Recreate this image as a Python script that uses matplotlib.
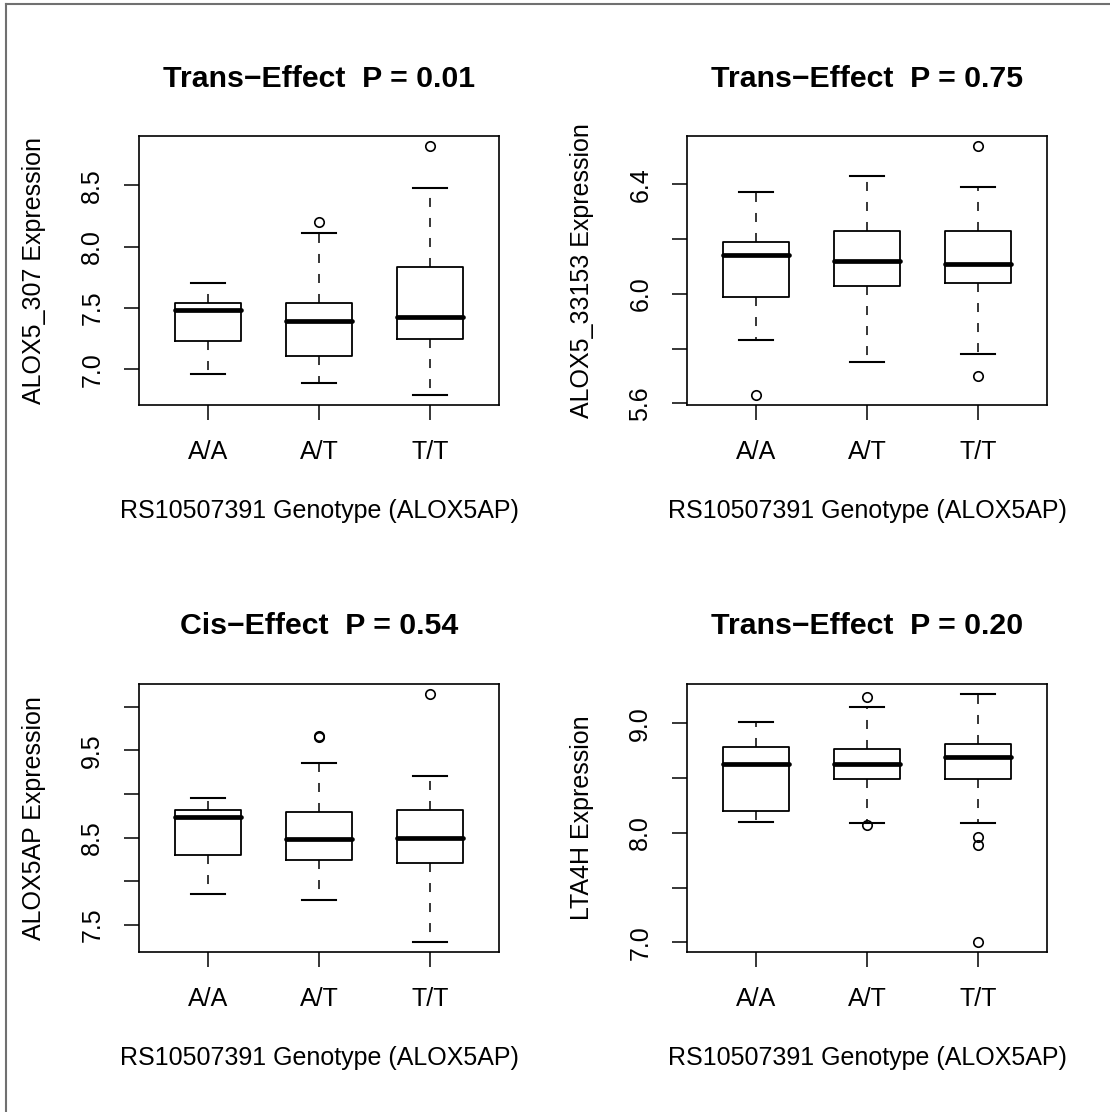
import matplotlib
matplotlib.use('Agg')
import matplotlib.pyplot as plt
from matplotlib.lines import Line2D

plt.rcParams['font.family'] = ['Liberation Sans', 'DejaVu Sans']
plt.rcParams['axes.ymargin'] = 0.04

genotypes = ['A/A', 'A/T', 'T/T']
xlab = 'RS10507391 Genotype (ALOX5AP)'

# panel 1 - ALOX5_307
p1_title = 'Trans\u2212Effect  P = 0.01'
p1_ylab = 'ALOX5_307 Expression'
p1_whislo = [6.96, 6.89, 6.79]
p1_q1 = [7.23, 7.11, 7.25]
p1_med = [7.48, 7.39, 7.43]
p1_q3 = [7.54, 7.54, 7.83]
p1_whishi = [7.70, 8.11, 8.48]
p1_fliers = [[], [8.20], [8.82]]
p1_ticks = [7.0, 7.5, 8.0, 8.5]
p1_ticklabels = ['7.0', '7.5', '8.0', '8.5']

# panel 2 - ALOX5_33153
p2_title = 'Trans\u2212Effect  P = 0.75'
p2_ylab = 'ALOX5_33153 Expression'
p2_whislo = [5.83, 5.75, 5.78]
p2_q1 = [5.99, 6.03, 6.04]
p2_med = [6.14, 6.12, 6.11]
p2_q3 = [6.19, 6.23, 6.23]
p2_whishi = [6.37, 6.43, 6.39]
p2_fliers = [[5.63], [], [6.54, 5.70]]
p2_ticks = [5.6, 5.8, 6.0, 6.2, 6.4]
p2_ticklabels = ['5.6', '', '6.0', '', '6.4']

# panel 3 - ALOX5AP
p3_title = 'Cis\u2212Effect  P = 0.54'
p3_ylab = 'ALOX5AP Expression'
p3_whislo = [7.85, 7.78, 7.30]
p3_q1 = [8.30, 8.24, 8.21]
p3_med = [8.74, 8.49, 8.50]
p3_q3 = [8.82, 8.79, 8.82]
p3_whishi = [8.96, 9.36, 9.21]
p3_fliers = [[], [9.65, 9.66], [10.15]]
p3_ticks = [7.5, 8.0, 8.5, 9.0, 9.5, 10.0]
p3_ticklabels = ['7.5', '', '8.5', '', '9.5', '']

# panel 4 - LTA4H
p4_title = 'Trans\u2212Effect  P = 0.20'
p4_ylab = 'LTA4H Expression'
p4_whislo = [8.10, 8.09, 8.09]
p4_q1 = [8.20, 8.49, 8.49]
p4_med = [8.63, 8.63, 8.69]
p4_q3 = [8.78, 8.77, 8.81]
p4_whishi = [9.01, 9.15, 9.27]
p4_fliers = [[], [9.24, 8.07], [7.96, 7.89, 7.00]]
p4_ticks = [7.0, 7.5, 8.0, 8.5, 9.0]
p4_ticklabels = ['7.0', '', '8.0', '', '9.0']

W, H = 1110, 1112
fig = plt.figure(figsize=(W / 100, H / 100), dpi=100)


def panel(rect, title, ylab, whislo, q1, med, q3, whishi, fliers, ticks, ticklabels):
    ax = fig.add_axes(rect)
    stats = []
    for i in range(len(genotypes)):
        stats.append(dict(whislo=whislo[i], q1=q1[i], med=med[i], q3=q3[i],
                          whishi=whishi[i], fliers=fliers[i], label=genotypes[i]))
    ax.bxp(stats, positions=[1, 2, 3], widths=0.6, capwidths=0.3,
           boxprops=dict(color='black', linewidth=1.3),
           medianprops=dict(color='black', linewidth=3.4, solid_capstyle='round'),
           whiskerprops=dict(color='black', linewidth=1.1, linestyle=(0, (5.9, 7.2))),
           capprops=dict(color='black', linewidth=1.5),
           flierprops=dict(marker='o', markerfacecolor='none', markeredgecolor='black',
                           markersize=6.8, markeredgewidth=1.2))
    ax.set_xlim(0.5 - 0.12, 3.5 + 0.12)
    ax.set_yticks(ticks)
    ax.set_yticklabels(ticklabels, rotation=90, va='center')
    ax.tick_params(axis='both', length=11, width=1.1, labelsize=18)
    ax.tick_params(axis='y', pad=14)
    ax.tick_params(axis='x', pad=14)
    for s in ax.spines.values():
        s.set_linewidth(1.2)
    ax.set_title(title, fontsize=21.8, fontweight='bold', pad=35.5)
    ax.set_ylabel(ylab, fontsize=18)
    ax.yaxis.set_label_coords(-0.258, 0.5)
    ax.set_xlabel(xlab, fontsize=18)
    ax.xaxis.set_label_coords(0.5, -0.35)
    return ax


panel([139 / W, (H - 405) / H, 360 / W, 269 / H], p1_title, p1_ylab,
      p1_whislo, p1_q1, p1_med, p1_q3, p1_whishi, p1_fliers, p1_ticks, p1_ticklabels)
panel([687 / W, (H - 405) / H, 360 / W, 269 / H], p2_title, p2_ylab,
      p2_whislo, p2_q1, p2_med, p2_q3, p2_whishi, p2_fliers, p2_ticks, p2_ticklabels)
panel([139 / W, (H - 952.3) / H, 360 / W, 268.5 / H], p3_title, p3_ylab,
      p3_whislo, p3_q1, p3_med, p3_q3, p3_whishi, p3_fliers, p3_ticks, p3_ticklabels)
panel([687 / W, (H - 952.3) / H, 360 / W, 268.5 / H], p4_title, p4_ylab,
      p4_whislo, p4_q1, p4_med, p4_q3, p4_whishi, p4_fliers, p4_ticks, p4_ticklabels)

# grey frame on top and left edge
fig.add_artist(Line2D([6 / W, 1], [1 - 4 / H, 1 - 4 / H], color='#707070', linewidth=1.5,
                      transform=fig.transFigure))
fig.add_artist(Line2D([6 / W, 6 / W], [0, 1 - 4 / H], color='#707070', linewidth=1.5,
                      transform=fig.transFigure))

fig.savefig('out.png', dpi=100)
